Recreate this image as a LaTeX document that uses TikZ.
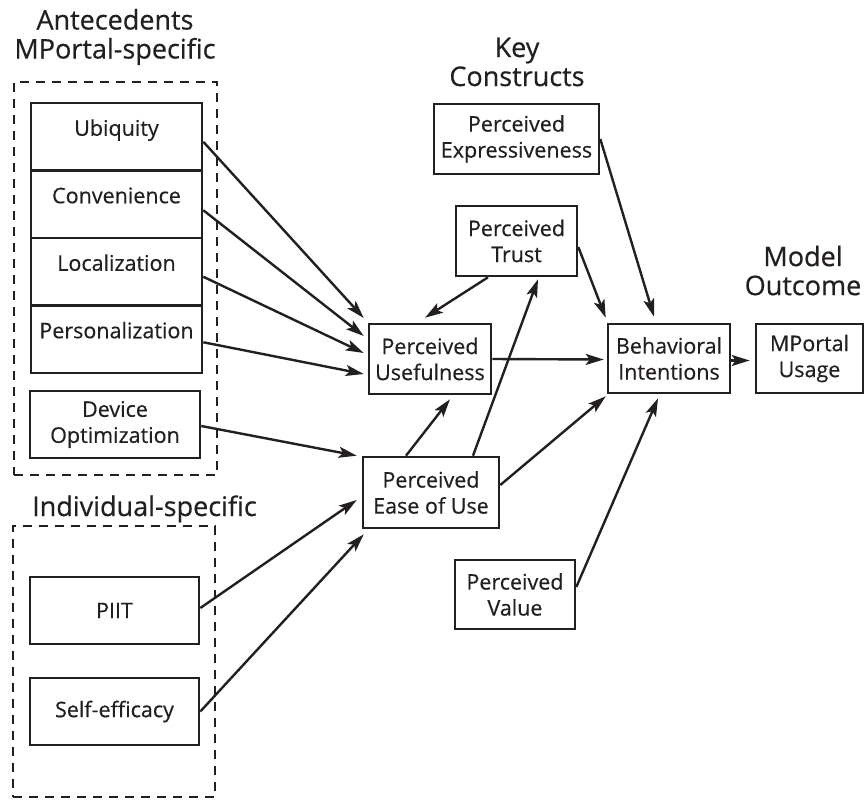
\documentclass[tikz,border=0pt]{standalone}
\usepackage{fontspec}
\setmainfont{Open Sans}[FakeBold=0.5]
\usetikzlibrary{arrows.meta}

\definecolor{ink}{RGB}{35,31,32}

\begin{document}
\begin{tikzpicture}[
        x=1pt, y=-1pt,
        box/.style={rectangle, draw=ink, line width=2.6pt, text=ink, align=center, inner sep=0pt, font=\fontsize{21.5}{26}\selectfont},
        cell/.style={box, minimum width=171pt, minimum height=67.5pt, text height=15pt, text depth=17pt},
        construct/.style={box, minimum height=70pt},
        group/.style={rectangle, draw=ink, line width=2.4pt, dash pattern=on 9pt off 7pt},
        heading/.style={align=center, text=ink, inner sep=0pt, font=\fontsize{27}{29}\selectfont},
        arrow/.style={-{Stealth[length=18pt, width=11pt, inset=4pt]}, line width=2.4pt, draw=ink}
    ]
        \useasboundingbox (0,0) rectangle (864,800);

        \node[heading] (antehead) at (115,37) {Antecedents\\MPortal-specific};
        \node[heading, anchor=base west] (indhead) at (32,516) {Individual-specific};
        \node[heading] (keyhead) at (517,62) {Key\\Constructs};
        \node[heading] (outhead) at (803,270.5) {Model\\Outcome};

        \node[group, minimum width=203pt, minimum height=393pt] (ante) at (115.5,278.5) {};
        \node[group, minimum width=202pt, minimum height=271pt] (indiv) at (114,661.5) {};

        \node[cell] (ubi) at (116.5,136.75) {Ubiquity};
        \node[cell] (conv) at (116.5,204.25) {Convenience};
        \node[cell] (loc) at (116.5,271.75) {Localization};
        \node[cell] (pers) at (116.5,339.25) {Personalization};
        \node[box, minimum width=170pt, minimum height=67pt] (dev) at (115,424.5) {Device\\Optimization};
        \node[box, minimum width=169pt, minimum height=67pt] (piit) at (114.5,610.5) {PIIT};
        \node[box, minimum width=169pt, minimum height=67pt] (self) at (114.5,711.5) {Self-efficacy};

        \node[construct, minimum width=165pt] (pe) at (516.5,139) {Perceived\\Expressiveness};
        \node[construct, minimum width=121pt] (pt) at (516.5,241) {Perceived\\Trust};
        \node[construct, minimum width=122pt] (pu) at (430,359) {Perceived\\Usefulness};
        \node[construct, minimum width=136pt, minimum height=71pt] (peou) at (431,492.5) {Perceived\\Ease of Use};
        \node[construct, minimum width=120pt, minimum height=69pt] (pv) at (515,594.5) {Perceived\\Value};
        \node[construct, minimum width=122pt, minimum height=69pt] (bi) at (669,358.5) {Behavioral\\Intentions};
        \node[construct, minimum width=107pt, minimum height=69pt] (use) at (809.5,358.5) {MPortal\\Usage};

        \draw[arrow] ([yshift=-5pt]ubi.east) -- ([shift={(-4pt,41pt)}]pu.west);
        \draw[arrow] ([yshift=-6pt]conv.east) -- ([shift={(-4pt,23pt)}]pu.west);
        \draw[arrow] ([yshift=-5pt]loc.east) -- ([shift={(-4pt,6pt)}]pu.west);
        \draw[arrow] ([yshift=-3pt]pers.east) -- ([shift={(-4pt,-15pt)}]pu.west);
        \draw[arrow] ([yshift=-1.5pt]dev.east) -- ([xshift=-5pt]peou.north west);
        \draw[arrow] ([yshift=2.5pt]piit.east) -- ([shift={(-5pt,-7.5pt)}]peou.west);
        \draw[arrow] (self.east) -- ([shift={(2pt,-5pt)}]peou.south west);

        \draw[arrow] (pu.east) -- ([shift={(-3pt,-1pt)}]bi.west);
        \draw[arrow] ([xshift=-25pt]peou.north) -- ([shift={(20pt,-4pt)}]pu.south);
        \draw[arrow] ([xshift=42pt]peou.north) -- ([shift={(21.5pt,-2pt)}]pt.south);
        \draw[arrow] ([xshift=-28.5pt]pt.south) -- ([shift={(-5pt,5pt)}]pu.north);
        \draw[arrow] ([yshift=-6pt]pt.east) -- ([shift={(-1pt,5pt)}]bi.north west);
        \draw[arrow] (pe.east) -- ([shift={(-15pt,6pt)}]bi.north);
        \draw[arrow] ([yshift=7.5pt]peou.east) -- ([shift={(-1pt,-2pt)}]bi.south west);
        \draw[arrow] ([yshift=7.5pt]pv.east) -- ([shift={(-11pt,-4pt)}]bi.south);
        \draw[arrow] ([yshift=-2pt]bi.east) -- ([shift={(-5pt,-2pt)}]use.west);
    \end{tikzpicture}
\end{document}
